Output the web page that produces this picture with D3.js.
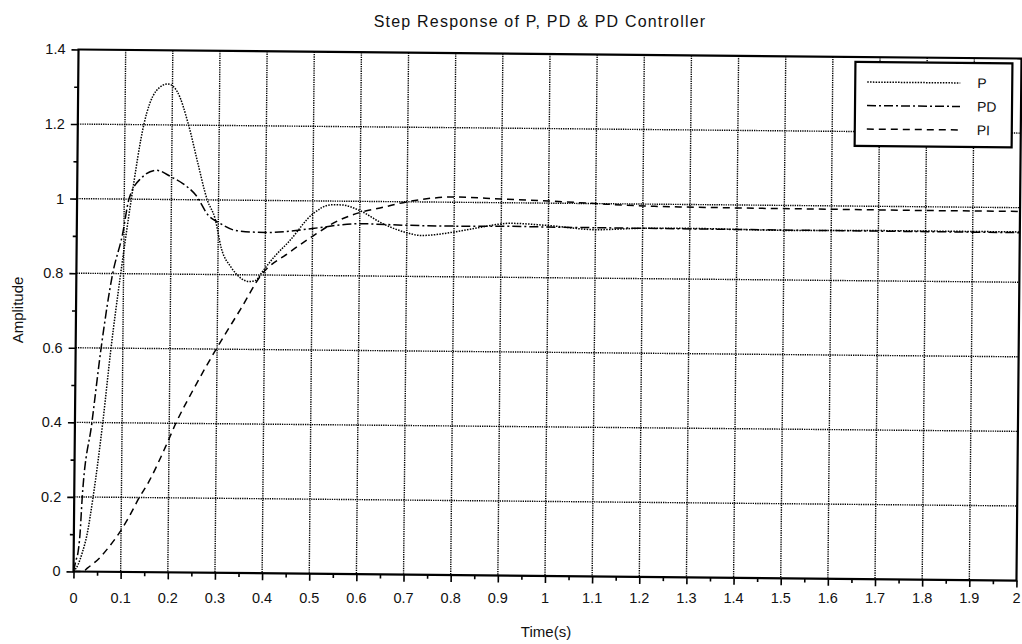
<!DOCTYPE html>
<html>
<head>
<meta charset="utf-8">
<script src="https://cdn.jsdelivr.net/npm/d3@7"></script>
<style>
  body { margin: 0; background: #fff; }
  text { font-family: "Liberation Sans", Arial, sans-serif; fill: #111; }
</style>
</head>
<body>
<div id="wrapper"></div>
<script>
// values
const timeP = [0, 0.01, 0.018, 0.028, 0.04, 0.059, 0.075, 0.094, 0.115, 0.14, 0.165, 0.19, 0.21, 0.235, 0.255, 0.276, 0.293, 0.307, 0.328, 0.35, 0.365, 0.38, 0.395, 0.42, 0.45, 0.5, 0.54, 0.56, 0.6, 0.65, 0.7, 0.73, 0.8, 0.85, 0.92, 1.0, 1.1, 1.2, 1.3, 1.5, 1.7, 2.0];
const ampP = [0, 0.02, 0.05, 0.1, 0.2, 0.4, 0.6, 0.8, 1.0, 1.2, 1.29, 1.31, 1.29, 1.2, 1.1, 1.0, 0.95, 0.87, 0.82, 0.79, 0.782, 0.785, 0.81, 0.85, 0.89, 0.965, 0.99, 0.99, 0.975, 0.94, 0.917, 0.91, 0.92, 0.932, 0.945, 0.94, 0.93, 0.935, 0.936, 0.933, 0.935, 0.935];

const timePD = [0, 0.005, 0.009, 0.013, 0.017, 0.036, 0.054, 0.077, 0.097, 0.11, 0.135, 0.168, 0.2, 0.224, 0.252, 0.279, 0.3, 0.34, 0.4, 0.45, 0.5, 0.6, 0.7, 0.8, 0.9, 1.0, 1.2, 1.5, 2.0];
const ampPD = [0, 0.03, 0.05, 0.1, 0.2, 0.4, 0.6, 0.8, 0.905, 1.0, 1.056, 1.078, 1.06, 1.043, 1.012, 0.958, 0.94, 0.918, 0.914, 0.918, 0.926, 0.94, 0.937, 0.936, 0.937, 0.936, 0.935, 0.934, 0.933];

const timePI = [0, 0.02, 0.03, 0.055, 0.076, 0.097, 0.114, 0.138, 0.158, 0.192, 0.214, 0.25, 0.298, 0.35, 0.392, 0.45, 0.5, 0.55, 0.6, 0.65, 0.7, 0.75, 0.8, 0.9, 1.0, 1.1, 1.2, 1.4, 1.6, 1.8, 2.0];
const ampPI = [0, 0, 0.01, 0.037, 0.069, 0.106, 0.142, 0.2, 0.243, 0.335, 0.4, 0.49, 0.6, 0.71, 0.8, 0.86, 0.905, 0.945, 0.97, 0.985, 1.0, 1.01, 1.014, 1.01, 1.006, 1.0, 0.995, 0.992, 0.991, 0.99, 0.99];

const seriesNames = ["P", "PD", "PI"];
const xTicks = [0, 0.1, 0.2, 0.3, 0.4, 0.5, 0.6, 0.7, 0.8, 0.9, 1, 1.1, 1.2, 1.3, 1.4, 1.5, 1.6, 1.7, 1.8, 1.9, 2];
const xTickLabels = ["0", "0.1", "0.2", "0.3", "0.4", "0.5", "0.6", "0.7", "0.8", "0.9", "1", "1.1", "1.2", "1.3", "1.4", "1.5", "1.6", "1.7", "1.8", "1.9", "2"];
const xMinor = [0.05, 0.15, 0.25, 0.35, 0.45, 0.55, 0.65, 0.75, 0.85, 0.95, 1.05, 1.15, 1.25, 1.35, 1.45, 1.55, 1.65, 1.75, 1.85, 1.95];
const yTicks = [0, 0.2, 0.4, 0.6, 0.8, 1, 1.2, 1.4];
const yTickLabels = ["0", "0.2", "0.4", "0.6", "0.8", "1", "1.2", "1.4"];
const yMinor = [0.1, 0.3, 0.5, 0.7, 0.9, 1.1, 1.3];

function drawChart() {
  let dimensions = {
    width: 1022,
    height: 644,
    margin: { top: 54, left: 76, bottom: 68, right: 3 }
  };
  dimensions.boundedWidth = dimensions.width - dimensions.margin.left - dimensions.margin.right;
  dimensions.boundedHeight = dimensions.height - dimensions.margin.top - dimensions.margin.bottom;

  // the scan is slightly tilted
  const angle = 0.55;
  const cx = 547, cy = 315;
  const rad = angle * Math.PI / 180;
  const rot = (x, y) => [
    cx + (x - cx) * Math.cos(rad) - (y - cy) * Math.sin(rad),
    cy + (x - cx) * Math.sin(rad) + (y - cy) * Math.cos(rad)
  ];

  const wrapper = d3.select("#wrapper").append("svg")
    .attr("width", dimensions.width)
    .attr("height", dimensions.height);

  const container = wrapper.append("g")
    .attr("transform", `rotate(${angle},${cx},${cy}) translate(${dimensions.margin.left},${dimensions.margin.top})`);

  const xScale = d3.scaleLinear().domain([0, 2]).range([0, dimensions.boundedWidth]);
  const yScale = d3.scaleLinear().domain([0, 1.4]).range([dimensions.boundedHeight, 0]);

  // grid
  container.append("g").selectAll("line")
    .data(xTicks.slice(1, -1))
    .join("line")
    .attr("x1", d => xScale(d)).attr("x2", d => xScale(d))
    .attr("y1", 0).attr("y2", dimensions.boundedHeight)
    .attr("stroke", "#000").attr("stroke-width", 1.4)
    .attr("stroke-dasharray", "1.3,1");
  container.append("g").selectAll("line")
    .data(yTicks.slice(1, -1))
    .join("line")
    .attr("x1", 0).attr("x2", dimensions.boundedWidth)
    .attr("y1", d => yScale(d)).attr("y2", d => yScale(d))
    .attr("stroke", "#000").attr("stroke-width", 1.4)
    .attr("stroke-dasharray", "1.3,1");

  // ticks
  const xAxisGen = d3.axisBottom(xScale).tickValues(xTicks).tickSize(7).tickFormat("");
  const xMinorGen = d3.axisBottom(xScale).tickValues(xMinor).tickSize(4).tickFormat("");
  const yAxisGen = d3.axisLeft(yScale).tickValues(yTicks).tickSize(7).tickFormat("");
  const yMinorGen = d3.axisLeft(yScale).tickValues(yMinor).tickSize(4).tickFormat("");
  [xAxisGen, xMinorGen].forEach(gen => {
    container.append("g")
      .attr("transform", `translate(0,${dimensions.boundedHeight})`)
      .call(gen)
      .call(g => g.select(".domain").remove())
      .selectAll("line").attr("stroke", "#000").attr("stroke-width", 1.6);
  });
  [yAxisGen, yMinorGen].forEach(gen => {
    container.append("g")
      .call(gen)
      .call(g => g.select(".domain").remove())
      .selectAll("line").attr("stroke", "#000").attr("stroke-width", 1.6);
  });

  // frame
  container.append("rect")
    .attr("width", dimensions.boundedWidth)
    .attr("height", dimensions.boundedHeight)
    .attr("fill", "none")
    .attr("stroke", "#000")
    .attr("stroke-width", 2.2);

  // curves
  const series = [
    { name: seriesNames[0], t: timeP, v: ampP, dash: "1.5,1.3" },
    { name: seriesNames[1], t: timePD, v: ampPD, dash: "9,3,2,3" },
    { name: seriesNames[2], t: timePI, v: ampPI, dash: "7,5" }
  ];
  const lineGen = d3.line()
    .x(d => xScale(d[0]))
    .y(d => yScale(d[1]))
    .curve(d3.curveMonotoneX);
  container.append("g").selectAll("path")
    .data(series)
    .join("path")
    .attr("d", s => lineGen(d3.zip(s.t, s.v)))
    .attr("fill", "none")
    .attr("stroke", "#000")
    .attr("stroke-width", 1.5)
    .attr("stroke-dasharray", s => s.dash);

  // legend
  const legendX = 853 - dimensions.margin.left;
  const legendY = 59 - dimensions.margin.top;
  const legend = container.append("g").attr("transform", `translate(${legendX},${legendY})`);
  legend.append("rect")
    .attr("width", 157).attr("height", 84)
    .attr("fill", "#fff").attr("stroke", "#000").attr("stroke-width", 2.2);
  const rows = legend.selectAll("g.row")
    .data(series)
    .join("g")
    .attr("class", "row")
    .attr("transform", (d, i) => `translate(0,${20 + i * 23.5})`);
  rows.append("line")
    .attr("x1", 12).attr("x2", 105)
    .attr("stroke", "#000").attr("stroke-width", 1.5)
    .attr("stroke-dasharray", d => d.dash);
  rows.append("text")
    .attr("x", 122).attr("y", 5)
    .style("font-size", "14px")
    .text(d => d.name);

  // tick labels (text stays level in the scan)
  wrapper.append("g").selectAll("text")
    .data(xTicks)
    .join("text")
    .attr("x", d => rot(dimensions.margin.left + xScale(d), dimensions.margin.top + dimensions.boundedHeight)[0])
    .attr("y", 603)
    .attr("text-anchor", "middle")
    .style("font-size", "14.5px")
    .text((d, i) => xTickLabels[i]);
  wrapper.append("g").selectAll("text")
    .data(yTicks)
    .join("text")
    .attr("x", d => rot(dimensions.margin.left, dimensions.margin.top + yScale(d))[0] - 13)
    .attr("y", d => rot(dimensions.margin.left, dimensions.margin.top + yScale(d))[1] + 5)
    .attr("text-anchor", "end")
    .style("font-size", "14.5px")
    .text((d, i) => yTickLabels[i]);

  // titles
  wrapper.append("text")
    .attr("x", 540).attr("y", 27)
    .attr("text-anchor", "middle")
    .style("font-size", "16px")
    .style("letter-spacing", "1.2px")
    .text("Step Response of P, PD & PD Controller");
  wrapper.append("text")
    .attr("x", 546).attr("y", 637)
    .attr("text-anchor", "middle")
    .style("font-size", "15px")
    .text("Time(s)");
  wrapper.append("text")
    .attr("transform", "translate(23,310) rotate(-90)")
    .attr("text-anchor", "middle")
    .style("font-size", "15px")
    .text("Amplitude");
}
drawChart();
</script>
</body>
</html>
